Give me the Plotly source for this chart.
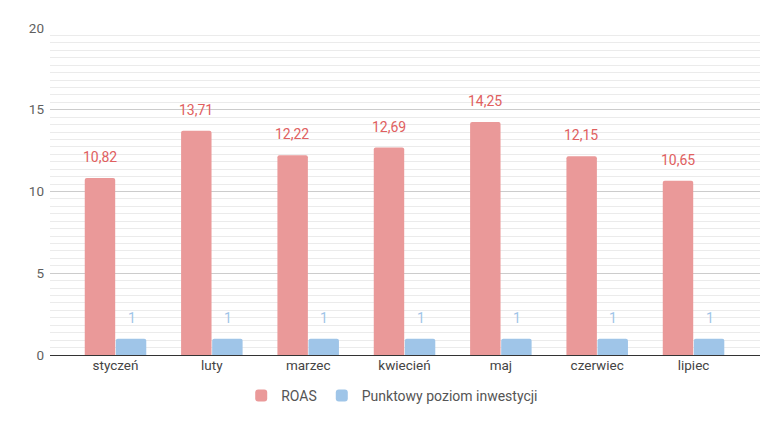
import plotly.graph_objects as go

# dane z wykresu
months = ["styczeń", "luty", "marzec", "kwiecień", "maj", "czerwiec", "lipiec"]
roas = [10.82, 13.71, 12.22, 12.69, 14.25, 12.15, 10.65]
invest = [1, 1, 1, 1, 1, 1, 1]

red = "#EA9999"
red_txt = "#E06060"
blue = "#9FC5E8"

fig = go.Figure()
fig.add_trace(go.Bar(x=months, y=roas, name="ROAS", marker=dict(color=red, line=dict(width=0))))
fig.add_trace(go.Bar(x=months, y=invest, name="Punktowy poziom inwestycji",
                     marker=dict(color=blue, line=dict(width=0))))


def fmt(v):
    return f"{v:.2f}".replace(".", ",") if v % 1 else str(int(v))


# etykiety nad słupkami
for m, r, i in zip(months, roas, invest):
    fig.add_annotation(x=m, y=r, text=fmt(r), showarrow=False, xshift=-16, yshift=21,
                       font=dict(color=red_txt, size=14, family="Roboto"))
    fig.add_annotation(x=m, y=i, text=fmt(i), showarrow=False, xshift=16, yshift=21,
                       font=dict(color=blue, size=14, family="Roboto"))

# strona ma 8px marginesu body, stąd przesunięte marginesy
fig.update_layout(
    width=780, height=424,
    margin=dict(l=42, r=28, t=18, b=77),
    plot_bgcolor="white", paper_bgcolor="white",
    font=dict(family="Roboto", size=13, color="#5f5f5f"),
    barmode="group", bargap=0.355, bargroupgap=0.02, barcornerradius=2,
    separators=", ",
    legend=dict(orientation="h", x=0.482, xanchor="center", y=-0.125, yanchor="middle",
                font=dict(size=14, color="#555555"), itemwidth=30),
    showlegend=True,
)
fig.update_xaxes(range=[-0.68, 6.69], showgrid=False, ticks="", tickfont=dict(size=13.5, color="#444"))
fig.update_yaxes(range=[0, 20], dtick=5, showgrid=True, gridcolor="#cccccc", gridwidth=1,
                 zeroline=True, zerolinecolor="#333333", zerolinewidth=1,
                 ticks="", ticklabelstandoff=5, tickfont=dict(size=13.5, color="#5f5f5f"),
                 minor=dict(dtick=5 / 11, tick0=0, showgrid=True, gridcolor="#ebebeb", gridwidth=1))

fig.write_html("out.html")
